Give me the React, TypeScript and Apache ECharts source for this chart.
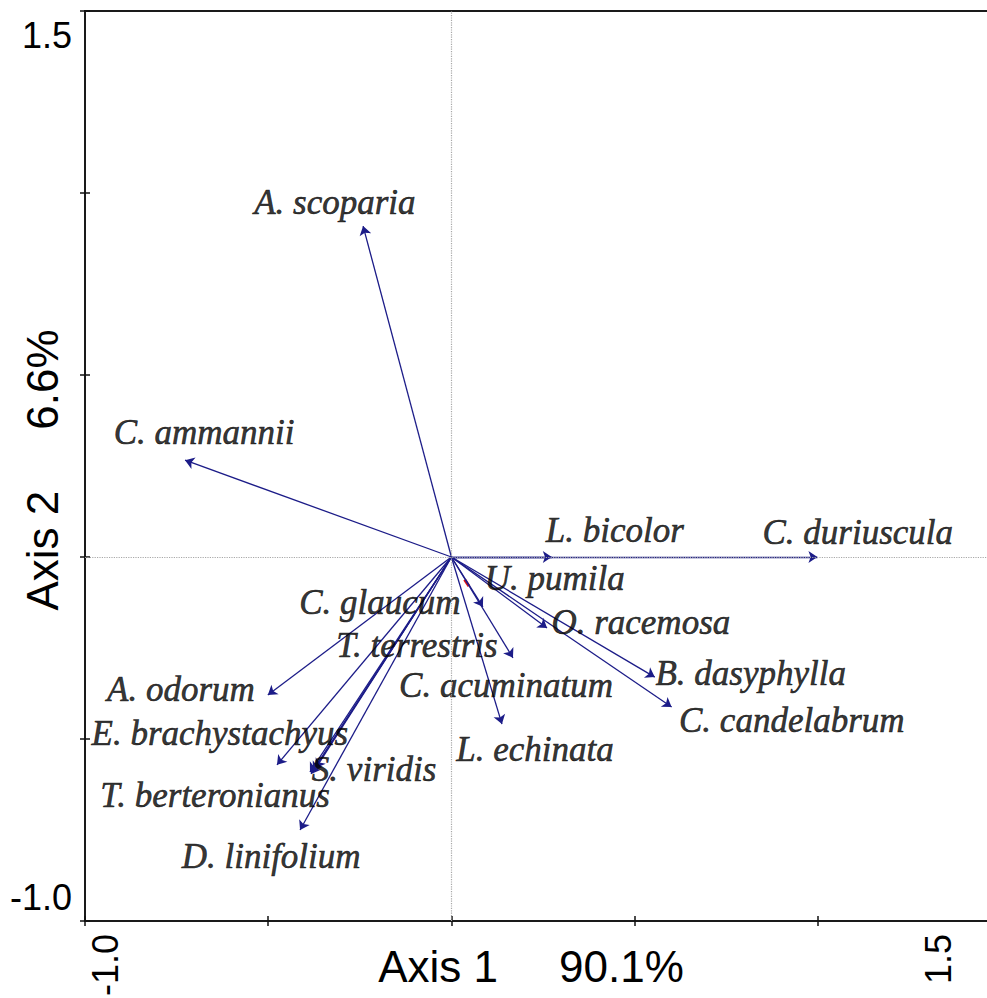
import React, { useEffect, useRef } from "react";
import * as echarts from "echarts";

// Species (biplot arrows)
const species = [
  "A. scoparia", "C. ammannii", "L. bicolor", "C. duriuscula", "U. pumila",
  "O. racemosa", "B. dasyphylla", "C. candelabrum", "C. acuminatum", "L. echinata",
  "C. glaucum", "T. terrestris", "A. odorum", "E. brachystachyus",
  "T. berteronianus", "S. viridis", "D. linifolium",
];
// Arrow tip coordinates (Axis 1, Axis 2)
const tipX = [-0.241, -0.727, 0.274, 0.999, 0.086, 0.261, 0.555, 0.601, 0.168, 0.138, -0.370, -0.386, -0.501, -0.476, -0.383, -0.378, -0.413];
const tipY = [0.909, 0.266, 0.0, 0.0, -0.137, -0.195, -0.330, -0.412, -0.277, -0.459, -0.580, -0.591, -0.379, -0.571, -0.596, -0.588, -0.750];
// Label anchor coordinates (Axis 1, Axis 2)
const labX = [-0.318, -0.675, 0.446, 1.109, 0.282, 0.517, 0.817, 0.929, 0.149, 0.228, -0.195, -0.094, -0.738, -0.632, -0.645, -0.211, -0.492];
const labY = [0.973, 0.341, 0.074, 0.066, -0.058, -0.179, -0.319, -0.448, -0.352, -0.530, -0.126, -0.242, -0.365, -0.484, -0.654, -0.585, -0.824];

// small red mark near the origin
const redFrom = [0.036, -0.062];
const redTo = [0.048, -0.080];

// axes
const xMin = -1.0, xMax = 1.5;
const yMin = -1.0, yMax = 1.5;
const tickStep = 0.5;
const xTickLabels = ["-1.0", "1.5"];
const yTickLabels = ["1.5", "-1.0"];
const xTitle = "Axis 1     90.1%";
const yTitle = "Axis 2     6.6%";

const ARROW = "#1c1c88";

export default function App() {
  const ref = useRef<HTMLDivElement>(null);
  useEffect(() => {
    if (!ref.current) return;
    const chart = echarts.init(ref.current, undefined, { renderer: "svg" });
    const axisCommon = {
      type: "value",
      min: xMin,
      max: xMax,
      interval: tickStep,
      axisLine: { show: false, onZero: false },
      axisLabel: { show: false },
      splitLine: { show: false },
    };
    const tick = { show: true, length: 5, lineStyle: { color: "#111", width: 1.5 } };
    const option: any = {
      animation: false,
      backgroundColor: "#fff",
      grid: {
        left: 85, top: 11, width: 916, height: 910,
        show: true, borderColor: "#1a1a1a", borderWidth: 2, backgroundColor: "transparent",
      },
      xAxis: [
        { ...axisCommon, position: "bottom", axisTick: { ...tick } },
        { ...axisCommon, position: "bottom", axisTick: { ...tick, inside: true } },
      ],
      yAxis: [
        { ...axisCommon, min: yMin, max: yMax, position: "left", axisTick: { ...tick } },
        { ...axisCommon, min: yMin, max: yMax, position: "left", axisTick: { ...tick, inside: true } },
      ],
      series: [
        {
          type: "lines",
          coordinateSystem: "cartesian2d",
          silent: true,
          z: 2,
          lineStyle: { color: "#e01010", width: 3, opacity: 1 },
          data: [{ coords: [redFrom, redTo] }],
        },
        {
          type: "lines",
          coordinateSystem: "cartesian2d",
          silent: true,
          z: 3,
          symbol: ["none", "arrow"],
          symbolSize: 9,
          lineStyle: { color: ARROW, width: 1.3, opacity: 1 },
          itemStyle: { color: ARROW },
          data: species.map((s, i) => ({ name: s, coords: [[0, 0], [tipX[i], tipY[i]]] })),
        },
        {
          type: "scatter",
          silent: true,
          z: 4,
          symbolSize: 0,
          data: species.map((s, i) => ({ name: s, value: [labX[i], labY[i]] })),
          label: {
            show: true,
            position: "inside",
            formatter: "{b}",
            color: "#000",
            textBorderWidth: 0.6,
            textBorderColor: "#000",
            fontFamily: "Liberation Serif",
            fontStyle: "italic",
            fontSize: 35,
          },
          markLine: {
            silent: true,
            symbol: "none",
            label: { show: false },
            lineStyle: { color: "#a8a8a8", type: "dotted", width: 1.2 },
            data: [{ xAxis: 0 }, { yAxis: 0 }],
          },
        },
      ],
    };
    chart.setOption(option);

    const px = (x: number, y: number) => chart.convertToPixel({ gridIndex: 0 }, [x, y]) as number[];
    const tickFont = { fontFamily: "Liberation Sans", fontSize: 36, fill: "#000" };
    const titleFont = { fontFamily: "Liberation Sans", fontSize: 44, fill: "#000" };
    const yTop = px(xMin, yMax);
    const yBot = px(xMin, yMin);
    const xRight = px(xMax, yMin);
    chart.setOption({
      graphic: [
        { type: "text", x: yTop[0] - 13, y: yTop[1] + 24, style: { text: yTickLabels[0], ...tickFont, align: "right", verticalAlign: "middle" } },
        { type: "text", x: yBot[0] - 13, y: yBot[1] - 24, style: { text: yTickLabels[1], ...tickFont, align: "right", verticalAlign: "middle" } },
        { type: "text", x: yBot[0] + 20, y: yBot[1] + 13, rotation: Math.PI / 2, style: { text: xTickLabels[0], ...tickFont, align: "right", verticalAlign: "middle" } },
        { type: "text", x: xRight[0] - 63, y: xRight[1] + 13, rotation: Math.PI / 2, style: { text: xTickLabels[1], ...tickFont, align: "right", verticalAlign: "middle" } },
        { type: "text", x: 531, y: 966, style: { text: xTitle, ...titleFont, align: "center", verticalAlign: "middle" } },
        { type: "text", x: 42, y: 470, rotation: Math.PI / 2, style: { text: yTitle, ...titleFont, align: "center", verticalAlign: "middle" } },
      ],
    });
    return () => chart.dispose();
  }, []);

  return (
    <div style={{ position: "fixed", left: 0, top: 0, width: 987, height: 998, overflow: "hidden", background: "#fff" }}>
      <div ref={ref} style={{ width: 1020, height: 998 }} />
    </div>
  );
}
